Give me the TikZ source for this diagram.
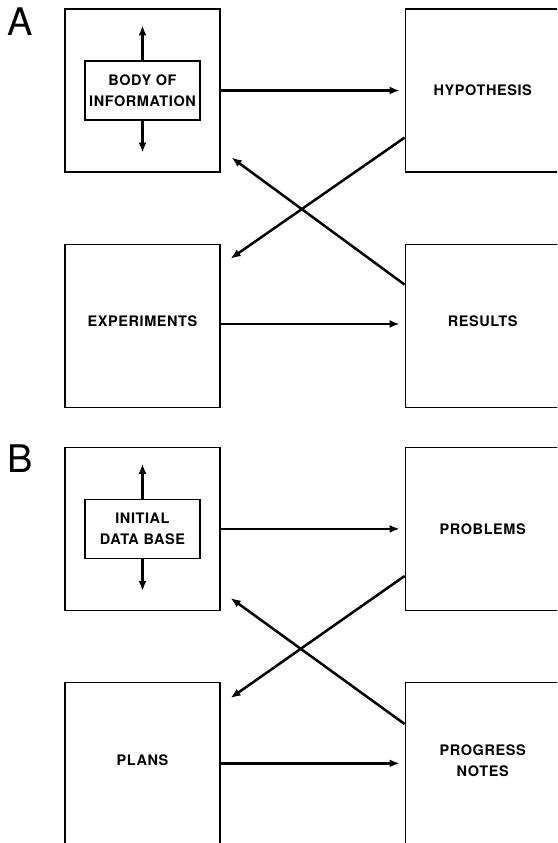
\documentclass[tikz,border=0pt]{standalone}
\usepackage{fontspec}
\setmainfont{TeX Gyre Heros}
\newfontfamily\boxfont{TeX Gyre Heros}[LetterSpace=4]
\usetikzlibrary{arrows.meta,positioning}

\begin{document}
\begin{tikzpicture}[x=1pt,y=1pt,>={Latex[length=10pt,width=8pt]},
    box/.style={draw,line width=1.2pt,inner sep=0pt,align=center,minimum width=155pt,minimum height=163pt,font=\boxfont\bfseries\fontsize{14.5}{21}\selectfont},
    inbox/.style={draw,line width=1.2pt,inner sep=0pt,align=center,minimum width=115pt,minimum height=59pt,font=\boxfont\bfseries\fontsize{14.5}{21}\selectfont},
    flow/.style={->,line width=2.5pt},
    panel/.style={inner sep=0pt,font=\fontsize{38}{38}\selectfont}]
    \clip (0,0) rectangle (557,-843);
    % A
    \node[panel] (lblA) at (20,-22) {A};
    \node[box] (body) at (142.5,-90.5) {};
    \node[inbox] (info) at (body) {BODY OF\\INFORMATION};
    \node[box,right=184pt of body] (hyp) {HYPOTHESIS};
    \node[box,below=71pt of body,text depth=9pt] (exp) {EXPERIMENTS};
    \node[box,right=184pt of exp,text depth=9pt] (res) {RESULTS};
    \coordinate[above=35pt of info.north] (infoup);
    \coordinate[below=32pt of info.south] (infodown);
    \draw[flow] (info.north) -- (infoup);
    \draw[flow] (info.south) -- (infodown);
    \draw[flow,shorten >=5pt] (body) -- (hyp);
    \draw[flow,shorten >=5pt] (exp.mid east) -- (exp.mid east -| res.west);
    \draw[flow] ([yshift=35pt]hyp.south west) -- ([shift={(10pt,-15pt)}]exp.north east);
    \draw[flow] ([yshift=-41pt]res.north west) -- ([shift={(11pt,15pt)}]body.south east);
    % B
    \node[panel] (lblB) at (20,-459) {B};
    \node[box,below=39pt of exp] (init) {};
    \node[inbox] (data) at (init) {INITIAL\\DATA BASE};
    \node[box,right=184pt of init] (prob) {PROBLEMS};
    \node[box,below=71pt of init,text depth=7pt] (plans) {PLANS};
    \node[box,right=184pt of plans,text depth=7pt] (notes) {PROGRESS\\NOTES};
    \coordinate[above=35pt of data.north] (dataup);
    \coordinate[below=32pt of data.south] (datadown);
    \draw[flow] (data.north) -- (dataup);
    \draw[flow] (data.south) -- (datadown);
    \draw[flow,shorten >=5pt] (init) -- (prob);
    \draw[flow,shorten >=5pt] (plans.mid east) -- (plans.mid east -| notes.west);
    \draw[flow] ([yshift=35pt]prob.south west) -- ([shift={(10pt,-16pt)}]plans.north east);
    \draw[flow] ([yshift=-42pt]notes.north west) -- ([shift={(10pt,13pt)}]init.south east);
\end{tikzpicture}
\end{document}
